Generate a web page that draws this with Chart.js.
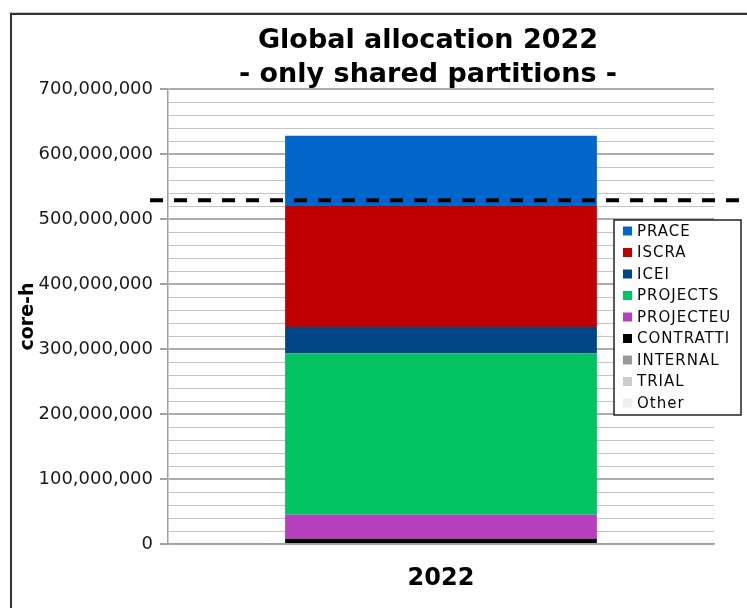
<!DOCTYPE html>
<html>
<head>
<meta charset="utf-8">
<script src="https://cdn.jsdelivr.net/npm/chart.js@4.4.1/dist/chart.umd.min.js"></script>
<style>
  html, body { margin: 0; padding: 0; background: #fff; }
  #wrap { position: relative; width: 747px; height: 608px; }
</style>
</head>
<body>
<div id="wrap"><canvas id="allocChart"></canvas></div>
<script>
const categories = ['2022'];
const seriesNames = ['PRACE', 'ISCRA', 'ICEI', 'PROJECTS', 'PROJECTEU', 'CONTRATTI', 'INTERNAL', 'TRIAL', 'Other'];
const seriesValues = [108000000, 186000000, 41000000, 248000000, 37000000, 8000000, 0, 0, 0];
const seriesColors = ['#0066cc', '#c00000', '#004586', '#00c462', '#b73fbd', '#000000', '#999999', '#cccccc', '#eeeeee'];
const thresholdValue = 529000000;
const yMax = 700000000;
const yStep = 20000000;
const yMajor = 100000000;

const FONT = 'DejaVu Sans';

// spreadsheet frame round the chart
const framePlugin = {
  id: 'frame',
  beforeDraw(chart) {
    const ctx = chart.ctx;
    ctx.save();
    ctx.fillStyle = '#fff';
    ctx.fillRect(0, 0, chart.width, chart.height);
    ctx.strokeStyle = '#c8c8c8';
    ctx.lineWidth = 1;
    ctx.beginPath();
    ctx.moveTo(9, 12.5);
    ctx.lineTo(chart.width, 12.5);
    ctx.stroke();
    ctx.strokeStyle = '#333';
    ctx.lineWidth = 2;
    ctx.beginPath();
    ctx.moveTo(11, chart.height);
    ctx.lineTo(11, 14);
    ctx.lineTo(chart.width, 14);
    ctx.stroke();
    ctx.restore();
  }
};

// dashed target line
const thresholdPlugin = {
  id: 'threshold',
  afterDatasetsDraw(chart) {
    const ctx = chart.ctx;
    const y = chart.scales.y.getPixelForValue(thresholdValue);
    ctx.save();
    ctx.strokeStyle = '#000';
    ctx.lineWidth = 4;
    ctx.setLineDash([13, 11]);
    ctx.beginPath();
    ctx.moveTo(chart.chartArea.left - 18, y);
    ctx.lineTo(chart.width - 6, y);
    ctx.stroke();
    ctx.restore();
  }
};

// boxed legend floating over the plot
const legendPlugin = {
  id: 'boxLegend',
  afterDraw(chart) {
    const ctx = chart.ctx;
    const x0 = chart.chartArea.right - 100;
    const y0 = 220;
    const w = 127, h = 195, row = 21.5;
    ctx.save();
    ctx.fillStyle = '#fff';
    ctx.fillRect(x0, y0, w, h);
    ctx.strokeStyle = '#222';
    ctx.lineWidth = 1.5;
    ctx.strokeRect(x0, y0, w, h);
    ctx.font = '15px "' + FONT + '"';
    ctx.letterSpacing = '1px';
    ctx.textBaseline = 'middle';
    seriesNames.forEach((name, i) => {
      const cy = y0 + 11 + i * row;
      ctx.fillStyle = seriesColors[i];
      ctx.fillRect(x0 + 9, cy - 4.5, 9, 9);
      ctx.fillStyle = '#0a0a0a';
      ctx.fillText(name, x0 + 23, cy + 1);
    });
    ctx.restore();
  }
};

// first dataset sits at the bottom of the stack
const datasets = seriesNames.map((name, i) => ({
  label: name,
  data: [seriesValues[i]],
  backgroundColor: seriesColors[i],
  borderWidth: 0
})).reverse();

const ctx = document.getElementById('allocChart').getContext('2d');
new Chart(ctx, {
  type: 'bar',
  data: { labels: categories, datasets: datasets },
  plugins: [framePlugin, thresholdPlugin, legendPlugin],
  options: {
    responsive: true,
    maintainAspectRatio: false,
    animation: false,
    layout: { padding: { left: 142, right: 33, top: 0, bottom: 0 } },
    datasets: { bar: { categoryPercentage: 1, barPercentage: 0.571 } },
    plugins: {
      legend: { display: false },
      tooltip: { enabled: false },
      title: {
        display: true,
        text: ['Global allocation 2022', '- only shared partitions -'],
        color: '#000',
        font: { family: FONT, size: 27, weight: 'bold', lineHeight: 1.26 },
        padding: { top: 24, bottom: -3 }
      }
    },
    scales: {
      x: {
        stacked: true,
        grid: { display: false },
        border: { color: '#a0a0a0', width: 1.5 },
        ticks: {
          color: '#000',
          padding: 12,
          font: { family: FONT, size: 24, weight: 'bold' }
        },
        afterFit(scale) { scale.height = 64; }
      },
      y: {
        stacked: true,
        min: 0,
        max: yMax,
        border: { color: '#a0a0a0', width: 1.5 },
        grid: {
          color: c => (c.tick && c.tick.value % yMajor === 0) ? '#adadad' : '#c4c4c4',
          lineWidth: c => (c.tick && c.tick.value % yMajor === 0) ? 2 : 1,
          tickColor: c => (c.tick && c.tick.value % yMajor === 0) ? '#a0a0a0' : 'rgba(0,0,0,0)',
          tickLength: 8
        },
        ticks: {
          stepSize: yStep,
          autoSkip: false,
          // labels sit left of the narrow axis box; mirror keeps them unclipped
          mirror: true,
          crossAlign: 'far',
          padding: -129.5,
          color: '#1a1a1a',
          font: { family: FONT, size: 18 },
          callback: v => (v % yMajor === 0) ? v.toLocaleString('en-US') : ''
        },
        title: {
          display: true,
          text: 'core-h',
          color: '#000',
          font: { family: FONT, size: 19, weight: 'bold', lineHeight: 1.2 },
          padding: { top: -125.4, bottom: 0 }
        },
        afterFit(scale) { scale.width = 26; }
      }
    }
  }
});
</script>
</body>
</html>
